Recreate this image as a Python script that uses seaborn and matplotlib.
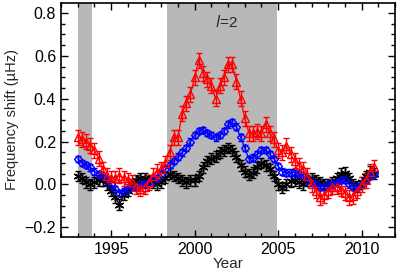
import numpy as np
import pandas as pd
import matplotlib
matplotlib.use("Agg")
import matplotlib.pyplot as plt
import seaborn as sns
from matplotlib.ticker import MultipleLocator

# sampled every quarter year, 1993.0 .. 2010.75
years = np.arange(1993.0, 2010.8, 0.25)

red_shift = [0.22, 0.21, 0.20, 0.18, 0.16, 0.12, 0.07, 0.04,
             0.03, 0.03, 0.04, 0.03, 0.02, 0.01, -0.01, -0.02,
             -0.01, 0.01, 0.04, 0.06, 0.07, 0.10, 0.15, 0.22,
             0.22, 0.33, 0.38, 0.42, 0.50, 0.58, 0.52, 0.49,
             0.46, 0.40, 0.46, 0.50, 0.56, 0.56, 0.48, 0.40,
             0.31, 0.24, 0.24, 0.245, 0.24, 0.28, 0.24, 0.21,
             0.16, 0.15, 0.18, 0.14, 0.11, 0.09, 0.07, 0.04,
             0.0, -0.03, -0.06, -0.05, -0.03, -0.01, -0.01, -0.02,
             -0.04, -0.06, -0.055, -0.03, 0.0, 0.02, 0.06, 0.08]

blue_shift = [0.12, 0.10, 0.09, 0.08, 0.06, 0.05, 0.04, 0.02,
              0.0, -0.02, -0.04, -0.03, -0.02, -0.01, -0.01, 0.0,
              0.0, 0.01, 0.02, 0.03, 0.05, 0.07, 0.09, 0.11,
              0.13, 0.15, 0.17, 0.20, 0.23, 0.25, 0.255, 0.24,
              0.23, 0.22, 0.23, 0.25, 0.28, 0.29, 0.27, 0.22,
              0.17, 0.12, 0.125, 0.14, 0.16, 0.16, 0.14, 0.12,
              0.085, 0.06, 0.055, 0.055, 0.055, 0.05, 0.04, 0.02,
              0.01, 0.0, -0.01, -0.01, 0.0, 0.0, 0.01, 0.02,
              0.02, 0.0, -0.01, -0.01, 0.0, 0.02, 0.04, 0.05]

black_shift = [0.04, 0.03, 0.01, 0.0, 0.01, 0.02, 0.02, 0.0,
               -0.03, -0.06, -0.095, -0.05, -0.03, 0.0, 0.02, 0.03,
               0.03, 0.02, 0.01, 0.0, 0.01, 0.03, 0.05, 0.04,
               0.03, 0.02, 0.01, 0.02, 0.02, 0.04, 0.08, 0.11,
               0.12, 0.13, 0.15, 0.16, 0.17, 0.16, 0.13, 0.09,
               0.06, 0.045, 0.055, 0.08, 0.10, 0.09, 0.07, 0.04,
               0.0, -0.015, 0.0, 0.015, 0.02, 0.01, 0.0, 0.02,
               0.03, 0.02, 0.01, 0.0, 0.0, 0.01, 0.03, 0.05,
               0.055, 0.03, 0.0, -0.01, 0.01, 0.04, 0.06, 0.05]

red_err = 0.035
blue_err = 0.015
black_err = 0.025

# shaded intervals (start, end)
bands = [(1993.0, 1993.85), (1998.35, 2004.95)]

df = pd.DataFrame({"year": years, "black": black_shift,
                   "blue": blue_shift, "red": red_shift})

sns.set_style("ticks")
plt.rcParams['font.family'] = ['Liberation Sans', 'DejaVu Sans']

fig = plt.figure(figsize=(3.99, 2.72), dpi=100)
ax = fig.add_axes([0.153, 0.129, 0.837, 0.860])

for a, b in bands:
    ax.axvspan(a, b, color='0.72', lw=0, zorder=0)

series = [
    ("black", "black", black_err, (6, 2, 0), 7, 'black'),
    ("blue", "blue", blue_err, 'D', 4, 'none'),
    ("red", "red", red_err, '^', 5.5, 'none'),
]
for col, c, err, mk, ms, fc in series:
    ax.errorbar(df["year"], df[col], yerr=err, fmt='none', ecolor=c,
                elinewidth=1.0, capsize=2.5, capthick=1.0, zorder=2)
    sns.lineplot(data=df, x="year", y=col, ax=ax, color=c, lw=0.9,
                 marker=mk, markersize=ms, markerfacecolor=fc,
                 markeredgecolor=c, markeredgewidth=1.0, zorder=3)

ax.text(2001.9, 0.76, "$\\it{l}$=2", ha='center', va='center', fontsize=11)

ax.set_xlim(1992, 2012)
ax.set_ylim(-0.245, 0.847)
ax.xaxis.set_major_locator(MultipleLocator(5))
ax.xaxis.set_minor_locator(MultipleLocator(1))
ax.yaxis.set_minor_locator(MultipleLocator(0.05))
ax.set_yticks([-0.2, 0.0, 0.2, 0.4, 0.6, 0.8])
ax.set_yticklabels(["\u22120.2", "0.0", "0.2", "0.4", "0.6", "0.8"])
ax.tick_params(which='both', direction='in', top=True, right=True,
               labelsize=11.5, width=1.0, color='black', labelcolor='black')
ax.tick_params(which='major', length=5)
ax.tick_params(which='minor', length=3)
for s in ax.spines.values():
    s.set_linewidth(1.2)
    s.set_color('black')

ax.set_xlabel("Year", fontsize=11, labelpad=0)
ax.set_ylabel("Frequency shift (\u00b5Hz)", fontsize=10.5, labelpad=4)

fig.savefig("out.png", dpi=100)
